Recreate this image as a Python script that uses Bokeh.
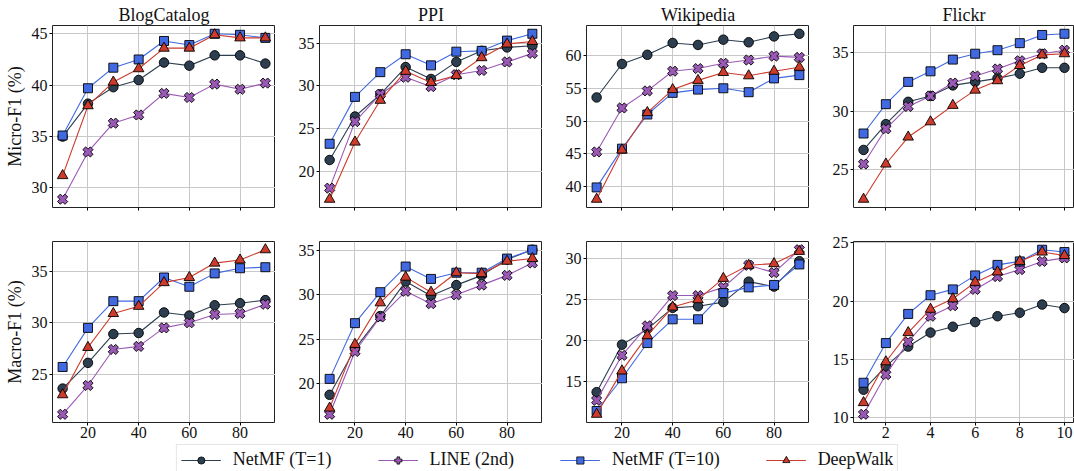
import numpy as np
from bokeh.plotting import figure
from bokeh.layouts import column, row
from bokeh.models import FixedTicker, Legend, LegendItem, Range1d
from bokeh.embed import file_html
from bokeh.resources import INLINE

# ---------------- data ----------------
x_ratio = [10, 20, 30, 40, 50, 60, 70, 80, 90]
x_flickr = [1, 2, 3, 4, 5, 6, 7, 8, 9, 10]

datasets = ["BlogCatalog", "PPI", "Wikipedia", "Flickr"]
series_names = ["NetMF (T=1)", "LINE (2nd)", "NetMF (T=10)", "DeepWalk"]

# Micro-F1 (%)
blog_micro_netmf1 = [35.0, 38.2, 39.8, 40.5, 42.2, 41.9, 42.9, 42.9, 42.1]
blog_micro_line = [28.9, 33.5, 36.3, 37.1, 39.2, 38.8, 40.1, 39.6, 40.2]
blog_micro_netmf10 = [35.1, 39.7, 41.7, 42.5, 44.3, 43.9, 45.0, 44.9, 44.6]
blog_micro_deepwalk = [31.2, 38.0, 40.3, 41.6, 43.6, 43.6, 44.9, 44.6, 44.6]

ppi_micro_netmf1 = [21.3, 26.4, 29.0, 32.2, 30.8, 32.8, 34.1, 34.5, 34.7]
ppi_micro_line = [18.0, 25.8, 29.0, 31.0, 29.9, 31.3, 31.8, 32.8, 33.8]
ppi_micro_netmf10 = [23.2, 28.7, 31.6, 33.7, 32.4, 34.0, 34.1, 35.3, 36.1]
ppi_micro_deepwalk = [16.7, 23.4, 28.3, 31.7, 30.4, 31.2, 33.3, 34.9, 35.2]

wiki_micro_netmf1 = [53.6, 58.7, 60.1, 61.9, 61.6, 62.4, 62.0, 62.9, 63.3]
wiki_micro_line = [45.3, 52.0, 54.6, 57.6, 58.0, 58.8, 59.3, 59.9, 59.7]
wiki_micro_netmf10 = [39.9, 45.8, 51.0, 54.3, 54.8, 55.0, 54.4, 56.5, 57.0]
wiki_micro_deepwalk = [38.1, 45.6, 51.3, 54.8, 56.2, 57.4, 56.9, 57.6, 58.2]

flickr_micro_netmf1 = [26.7, 28.9, 30.8, 31.3, 32.2, 32.5, 32.8, 33.2, 33.7, 33.7]
flickr_micro_line = [25.5, 28.5, 30.4, 31.3, 32.4, 33.0, 33.6, 34.3, 34.9, 35.2]
flickr_micro_netmf10 = [28.1, 30.6, 32.5, 33.4, 34.4, 34.9, 35.2, 35.8, 36.5, 36.6]
flickr_micro_deepwalk = [22.5, 25.5, 27.8, 29.1, 30.5, 31.8, 32.6, 33.9, 34.8, 34.9]

# Macro-F1 (%)
blog_macro_netmf1 = [23.6, 26.1, 28.9, 29.0, 31.0, 30.7, 31.7, 31.9, 32.2]
blog_macro_line = [21.1, 23.9, 27.4, 27.7, 29.5, 30.0, 30.8, 30.9, 31.8]
blog_macro_netmf10 = [25.7, 29.5, 32.1, 32.1, 34.4, 33.5, 34.8, 35.3, 35.4]
blog_macro_deepwalk = [23.0, 27.6, 30.9, 31.6, 33.9, 34.4, 35.8, 36.1, 37.1]

ppi_macro_netmf1 = [18.7, 23.9, 27.6, 31.5, 29.9, 31.1, 32.2, 34.0, 35.1]
ppi_macro_line = [16.5, 23.6, 27.5, 30.4, 29.0, 30.0, 31.1, 32.2, 33.6]
ppi_macro_netmf10 = [20.5, 26.8, 30.3, 33.2, 31.8, 32.5, 32.5, 34.1, 35.1]
ppi_macro_deepwalk = [17.2, 24.4, 29.1, 32.0, 30.3, 32.5, 32.4, 33.8, 34.1]

wiki_macro_netmf1 = [13.7, 19.5, 21.4, 24.0, 24.2, 24.7, 27.2, 26.6, 29.7]
wiki_macro_line = [12.7, 18.2, 21.8, 25.5, 25.5, 26.5, 29.2, 28.3, 31.1]
wiki_macro_netmf10 = [11.4, 15.4, 19.7, 22.6, 22.6, 25.8, 26.5, 26.8, 29.3]
wiki_macro_deepwalk = [11.0, 16.3, 20.6, 24.1, 25.0, 27.6, 29.2, 29.4, 30.9]

flickr_macro_netmf1 = [12.4, 14.4, 16.1, 17.3, 17.8, 18.2, 18.7, 19.0, 19.7, 19.4]
flickr_macro_line = [10.3, 13.7, 16.5, 18.7, 19.6, 21.0, 22.1, 22.7, 23.4, 23.7]
flickr_macro_netmf10 = [13.0, 16.4, 18.9, 20.5, 21.0, 22.2, 23.1, 23.4, 24.4, 24.2]
flickr_macro_deepwalk = [11.3, 14.8, 17.3, 19.3, 20.2, 21.6, 22.5, 23.4, 24.2, 23.9]

# tick labels
x_ticks_ratio = [20, 40, 60, 80]
x_ticks_flickr = [2, 4, 6, 8, 10]
y_ticks_micro = [[30, 35, 40, 45], [20, 25, 30, 35], [40, 45, 50, 55, 60], [25, 30, 35]]
y_ticks_macro = [[25, 30, 35], [20, 25, 30, 35], [15, 20, 25, 30], [10, 15, 20, 25]]
row_labels = ["Micro-F1 (%)", "Macro-F1 (%)"]

micro = [
    [blog_micro_netmf1, blog_micro_line, blog_micro_netmf10, blog_micro_deepwalk],
    [ppi_micro_netmf1, ppi_micro_line, ppi_micro_netmf10, ppi_micro_deepwalk],
    [wiki_micro_netmf1, wiki_micro_line, wiki_micro_netmf10, wiki_micro_deepwalk],
    [flickr_micro_netmf1, flickr_micro_line, flickr_micro_netmf10, flickr_micro_deepwalk],
]
macro = [
    [blog_macro_netmf1, blog_macro_line, blog_macro_netmf10, blog_macro_deepwalk],
    [ppi_macro_netmf1, ppi_macro_line, ppi_macro_netmf10, ppi_macro_deepwalk],
    [wiki_macro_netmf1, wiki_macro_line, wiki_macro_netmf10, wiki_macro_deepwalk],
    [flickr_macro_netmf1, flickr_macro_line, flickr_macro_netmf10, flickr_macro_deepwalk],
]

# ---------------- styles ----------------
FONT = "Liberation Serif"
colors = ["#2c3e50", "#9b59b6", "#4169e1", "#cc3b2b"]
markers = ["circle", "plus", "square", "triangle"]
msizes = [9.5, 10.5, 9, 10.5]
angles = [0, np.pi / 4, 0, 0]

COL_W = [275, 267, 267, 265]
COL_LEFT = [52, 44, 44, 44]
TOP_H = 226   # 25 title + 182 frame + 19 bottom
BOT_H = 218   # 15 top + 181 frame + 22 bottom
LEG_H = 27


def make_panel(ci, ri, ys_list):
    xs = x_flickr if ci == 3 else x_ratio
    allv = np.concatenate([np.asarray(v, dtype=float) for v in ys_list])
    lo, hi = allv.min(), allv.max()
    pad = 0.05 * (hi - lo)
    xlo, xhi = min(xs), max(xs)
    xpad = 0.05 * (xhi - xlo)
    top = ri == 0
    p = figure(
        width=COL_W[ci], height=TOP_H if top else BOT_H,
        x_range=Range1d(xlo - xpad, xhi + xpad),
        y_range=Range1d(lo - pad, hi + pad),
        output_backend="svg", toolbar_location=None,
        min_border_left=COL_LEFT[ci], min_border_right=0,
        min_border_top=25 if top else 15,
        min_border_bottom=19 if top else 22,
        background_fill_color="white", border_fill_color="white",
    )
    if top:
        p.title.text = datasets[ci]
        p.title.text_font = FONT
        p.title.text_font_size = "18px"
        p.title.text_font_style = "normal"
        p.title.text_color = "#111111"
        p.title.align = "center"
        p.title.standoff = 2
        p.title.offset = 0
    p.outline_line_color = "#222222"
    p.outline_line_width = 1
    p.outline_line_alpha = 1

    xt = x_ticks_flickr if ci == 3 else x_ticks_ratio
    p.xaxis.ticker = FixedTicker(ticks=xt)
    p.yaxis.ticker = FixedTicker(ticks=(y_ticks_micro if top else y_ticks_macro)[ci])
    for ax in (p.xaxis[0], p.yaxis[0]):
        ax.axis_line_color = None
        ax.major_tick_out = 3
        ax.major_tick_in = 0
        ax.major_tick_line_color = "black"
        ax.minor_tick_line_color = None
        ax.major_label_text_font = FONT
        ax.major_label_text_font_size = "16px"
        ax.major_label_text_color = "#111111"
        ax.major_label_standoff = 2
    p.xaxis.major_label_standoff = 1
    if top:
        p.xaxis.major_label_overrides = {t: "" for t in xt}
    if ci == 0:
        p.yaxis.axis_label = row_labels[ri]
        p.yaxis.axis_label_text_font = FONT
        p.yaxis.axis_label_text_font_size = "18px"
        p.yaxis.axis_label_text_font_style = "normal"
        p.yaxis.axis_label_text_color = "#111111"
        p.yaxis.axis_label_standoff = 4
    p.grid.grid_line_color = "#c8c8c8"
    p.grid.grid_line_width = 1

    for k, ys in enumerate(ys_list):
        p.line(xs, ys, line_color=colors[k], line_width=1.1)
        p.scatter(xs, ys, marker=markers[k], size=msizes[k], angle=angles[k],
                  fill_color=colors[k], line_color="black", line_width=0.9)
    return p


top_row = [make_panel(i, 0, micro[i]) for i in range(4)]
bot_row = [make_panel(i, 1, macro[i]) for i in range(4)]

# ---------------- legend ----------------
lf = figure(width=sum(COL_W), height=LEG_H, output_backend="svg", toolbar_location=None,
            x_axis_location=None, y_axis_location=None, min_border=0,
            x_range=Range1d(0, 1), y_range=Range1d(0, 1))
lf.outline_line_color = None
lf.grid.visible = False
items = []
for k, name in enumerate(series_names):
    # placeholder renderers (outside the visible range) that only feed the legend
    r1 = lf.line([5, 6], [5, 6], line_color=colors[k], line_width=1.1)
    r2 = lf.scatter([5.5], [5.5], marker=markers[k], size=msizes[k] * 0.65, angle=angles[k],
                    fill_color=colors[k], line_color="black", line_width=0.8)
    items.append(LegendItem(label=name, renderers=[r1, r2]))
leg = Legend(items=items, orientation="horizontal", location="top_center",
             margin=0, padding=4, spacing=46, glyph_width=40, glyph_height=18,
             label_standoff=12, label_text_font=FONT, label_text_font_size="18px",
             label_text_color="#111111",
             border_line_color="#cccccc", border_line_width=1,
             background_fill_color="white", background_fill_alpha=1)
lf.add_layout(leg)

layout = column(row(*top_row), row(*bot_row), lf)

with open("out.html", "w") as f:
    f.write(file_html(layout, INLINE))
